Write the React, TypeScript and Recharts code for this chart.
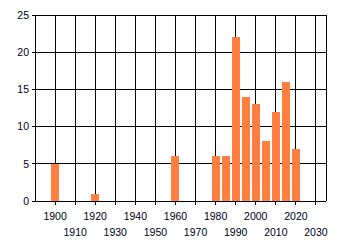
import { BarChart, Bar, XAxis, YAxis, CartesianGrid } from 'recharts';

const years = [1900, 1920, 1960, 1980, 1985, 1990, 1995, 2000, 2005, 2010, 2015, 2020];
const counts = [5, 1, 6, 6, 6, 22, 14, 13, 8, 12, 16, 7];
const xTicks = [1900, 1910, 1920, 1930, 1940, 1950, 1960, 1970, 1980, 1990, 2000, 2010, 2020, 2030];
const yTicks = [0, 5, 10, 15, 20, 25];

const data = years.map((year, i) => ({ year, count: counts[i] }));

const font = '"Liberation Sans", Arial, sans-serif';

// odd ticks drop to a second row so the labels don't collide
function StaggeredTick(props: any) {
  const { x, y, payload, index } = props;
  const dy = index % 2 === 0 ? 13 : 29;
  return (
    <text x={x} y={y + dy} textAnchor="middle" fontSize={10.5} fontFamily={font} fill="#000018">
      {payload.value}
    </text>
  );
}

export default function App() {
  return (
    <div style={{ position: 'absolute', left: 0, top: 0, width: 340, height: 245, background: '#fff' }}>
      <style>{'.recharts-wrapper line { shape-rendering: crispEdges; } .recharts-bar-rectangle path { stroke: none; shape-rendering: crispEdges; }'}</style>
      <BarChart width={340} height={245} data={data} margin={{ top: 15, right: 14, left: 0, bottom: 0 }}>
        <CartesianGrid stroke="#000" strokeWidth={1} />
        <XAxis
          dataKey="year"
          type="number"
          domain={[1890, 2035]}
          ticks={xTicks}
          interval={0}
          height={44}
          axisLine={{ stroke: '#000' }}
          tickLine={{ stroke: '#000' }}
          tickSize={4}
          tick={<StaggeredTick />}
        />
        <YAxis
          domain={[0, 25]}
          ticks={yTicks}
          width={35}
          axisLine={{ stroke: '#000' }}
          tickLine={{ stroke: '#000' }}
          tickSize={3}
          tick={{ fontSize: 10.5, fontFamily: font, fill: '#000018', dx: -1 }}
        />
        <Bar dataKey="count" fill="#ff7f40" stroke="none" barSize={8} isAnimationActive={false} />
      </BarChart>
    </div>
  );
}
